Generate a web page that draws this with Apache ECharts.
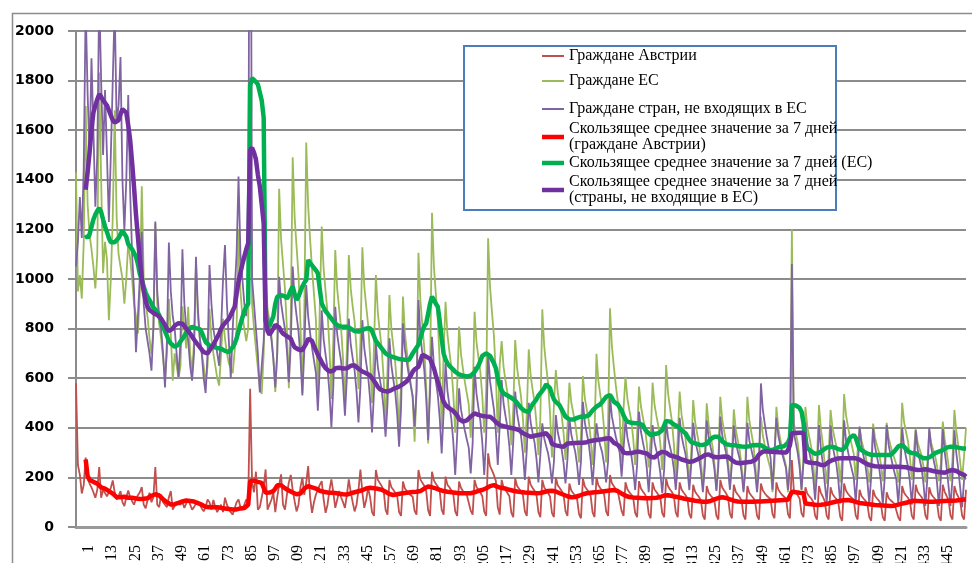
<!DOCTYPE html>
<html>
<head>
<meta charset="utf-8">
<script src="https://cdn.jsdelivr.net/npm/echarts@6/dist/echarts.min.js"></script>
<style>
  html, body { margin: 0; padding: 0; background: #fff; }
  #chart { width: 972px; height: 563px; }
</style>
</head>
<body>
<div id="chart"></div>
<script>
// daily values, day 1 .. 461
const austria = [
  580, 250, 210, 135, 170, 280, 200, 175, 160, 140,
  118, 150, 242, 118, 150, 158, 124, 140, 158, 188,
  140, 111, 125, 145, 100, 84, 120, 147, 120, 104,
  90, 115, 128, 140, 161, 90, 75, 110, 138, 100,
  120, 242, 90, 80, 131, 100, 90, 80, 120, 145,
  70, 85, 100, 104, 90, 100, 77, 95, 111, 105,
  70, 80, 95, 104, 90, 75, 63, 80, 111, 100,
  70, 109, 80, 60, 77, 90, 60, 118, 90, 70,
  60, 50, 75, 100, 111, 80, 70, 90, 111, 100,
  557, 180, 140, 223, 70, 80, 120, 160, 232, 70,
  90, 110, 138, 60, 120, 170, 212, 90, 70, 130,
  180, 210, 150, 104, 63, 90, 160, 200, 130, 180,
  246, 120, 57, 100, 131, 150, 170, 185, 110, 57,
  90, 150, 192, 140, 77, 110, 145, 120, 100, 77,
  130, 192, 140, 100, 63, 90, 150, 232, 140, 77,
  110, 158, 120, 60, 45, 230, 190, 182, 165, 150,
  70, 50, 190, 160, 150, 138, 126, 60, 45, 183,
  155, 147, 135, 131, 122, 65, 50, 230, 192, 178,
  166, 146, 68, 45, 223, 188, 174, 163, 144, 70,
  50, 203, 170, 160, 147, 133, 63, 45, 183, 157,
  145, 137, 129, 124, 66, 50, 190, 161, 149, 139,
  124, 62, 45, 297, 245, 228, 210, 186, 80, 50,
  190, 158, 148, 137, 124, 58, 40, 196, 165, 154,
  142, 129, 63, 45, 203, 171, 157, 146, 130, 60,
  40, 190, 159, 149, 137, 123, 57, 40, 200, 168,
  157, 145, 131, 64, 45, 175, 147, 136, 127, 112,
  52, 35, 195, 163, 152, 141, 126, 59, 40, 200,
  168, 156, 146, 131, 63, 45, 210, 176, 164, 153,
  144, 136, 65, 45, 180, 152, 140, 131, 117, 57,
  40, 185, 155, 143, 132, 118, 53, 35, 180, 151,
  141, 130, 118, 56, 40, 195, 164, 151, 141, 126,
  59, 40, 180, 151, 139, 129, 115, 52, 35, 170,
  142, 131, 121, 107, 47, 30, 165, 138, 127, 118,
  104, 46, 30, 190, 159, 147, 136, 120, 54, 35,
  170, 142, 131, 121, 107, 47, 30, 165, 138, 127,
  118, 104, 46, 30, 175, 147, 136, 126, 119, 112,
  52, 35, 180, 151, 139, 129, 122, 115, 52, 35,
  270, 150, 140, 128, 115, 55, 40, 160, 134, 124,
  115, 102, 46, 30, 165, 138, 122, 104, 46, 30,
  160, 133, 122, 113, 99, 41, 25, 175, 146, 134,
  124, 117, 110, 47, 30, 150, 125, 115, 106, 94,
  40, 25, 150, 125, 115, 106, 94, 40, 25, 140,
  117, 108, 100, 94, 88, 39, 25, 165, 138, 127,
  118, 104, 46, 30, 170, 142, 131, 121, 107, 47,
  30, 160, 133, 122, 113, 99, 41, 25, 170, 142,
  125, 107, 47, 30, 165, 138, 122, 104, 46, 30,
  150
];

const eu = [
  1430, 950, 1016, 921, 1150, 1698, 1300, 1180, 1120, 1050,
  962, 1100, 1833, 1400, 1023, 1150, 1080, 834, 1000, 1250,
  1680, 1250, 1100, 1050, 1002, 900, 1000, 1150, 1080, 1000,
  900, 850, 780, 950, 1374, 1000, 900, 847, 760, 698,
  800, 1225, 900, 820, 760, 680, 600, 700, 920, 780,
  590, 700, 650, 600, 650, 890, 800, 720, 888, 700,
  620, 750, 1064, 850, 760, 700, 650, 580, 650, 880,
  760, 700, 650, 600, 570, 700, 840, 760, 700, 660,
  640, 620, 617, 800, 1200, 950, 850, 800, 750, 800,
  1790, 900, 800, 720, 640, 560, 536, 700, 1000, 880,
  830, 770, 680, 545, 700, 1364, 1160, 1060, 960, 800,
  560, 840, 1491, 1250, 1130, 1015, 825, 540, 870, 1550,
  1295, 1160, 1040, 940, 835, 530, 890, 1212, 1040, 950,
  865, 725, 516, 760, 1117, 960, 880, 805, 680, 496,
  715, 1097, 960, 890, 828, 720, 557, 745, 1128, 970,
  890, 815, 690, 500, 720, 1016, 865, 790, 720, 600,
  420, 630, 935, 799, 728, 663, 554, 390, 581, 929,
  783, 707, 637, 578, 520, 344, 549, 1106, 914, 814,
  722, 568, 337, 606, 1267, 1050, 938, 834, 660, 400,
  703, 908, 776, 707, 644, 538, 380, 565, 808, 696,
  638, 584, 539, 494, 360, 517, 868, 746, 683, 624,
  526, 380, 551, 1164, 968, 866, 772, 615, 380, 654,
  750, 645, 590, 540, 456, 330, 477, 754, 641, 581,
  527, 436, 300, 459, 716, 610, 554, 503, 418, 290,
  439, 878, 729, 651, 579, 459, 280, 489, 633, 542,
  495, 452, 379, 270, 397, 582, 502, 460, 421, 357,
  260, 373, 609, 519, 473, 430, 358, 250, 376, 698,
  589, 532, 479, 391, 260, 413, 882, 727, 646, 571,
  509, 447, 260, 478, 606, 517, 471, 428, 357, 250,
  375, 566, 485, 442, 403, 338, 240, 354, 582, 494,
  448, 406, 336, 230, 353, 653, 540, 481, 427, 336,
  200, 359, 546, 452, 403, 358, 283, 170, 302, 512,
  424, 378, 336, 266, 160, 283, 499, 412, 366, 325,
  255, 150, 272, 525, 434, 386, 343, 270, 160, 288,
  474, 393, 351, 312, 247, 150, 263, 525, 431, 383,
  338, 263, 150, 281, 445, 369, 329, 293, 262, 232,
  140, 247, 485, 399, 354, 313, 278, 244, 140, 261,
  1200, 420, 380, 340, 270, 150, 280, 485, 404, 362,
  323, 258, 160, 274, 492, 397, 334, 254, 175, 286,
  472, 399, 361, 326, 268, 180, 282, 536, 450, 405,
  363, 328, 294, 190, 311, 404, 348, 319, 292, 247,
  180, 258, 417, 359, 329, 301, 255, 185, 266, 420,
  360, 329, 300, 276, 252, 180, 264, 501, 423, 383,
  346, 283, 190, 299, 396, 342, 314, 288, 245, 180,
  256, 390, 339, 312, 288, 247, 185, 257, 425, 353,
  305, 245, 185, 269, 472, 387, 331, 261, 190, 289,
  400
];

const nonEu = [
  1050, 1150, 1330, 1165, 1450, 2100, 1750, 1500, 1890, 1600,
  1291, 1500, 2150, 1800, 1500, 1762, 1500, 1230, 1500, 1800,
  2100, 1629, 1700, 1895, 1400, 1197, 1400, 1742, 1350, 1100,
  950, 705, 850, 1009, 1190, 900, 800, 750, 700, 630,
  800, 1232, 950, 850, 800, 700, 563, 750, 1147, 950,
  850, 800, 700, 604, 750, 1120, 900, 800, 750, 650,
  590, 700, 1090, 880, 760, 700, 600, 540, 700, 1056,
  900, 800, 750, 700, 650, 800, 1000, 1137, 900, 750,
  600, 800, 950, 1100, 1413, 1100, 1000, 900, 850, 1000,
  3600, 1000, 900, 800, 700, 543, 650, 750, 950, 853,
  803, 757, 679, 563, 698, 1009, 903, 848, 797, 712,
  584, 733, 1050, 920, 852, 790, 686, 530, 712, 976,
  849, 783, 723, 672, 621, 469, 646, 874, 756, 694,
  638, 543, 401, 567, 888, 778, 721, 669, 581, 449,
  603, 840, 736, 681, 631, 547, 422, 568, 834, 721,
  662, 608, 517, 381, 540, 740, 646, 597, 552, 477,
  364, 496, 761, 652, 595, 543, 455, 324, 477, 821,
  717, 663, 613, 571, 530, 405, 551, 915, 774, 700,
  633, 520, 350, 548, 767, 650, 588, 532, 438, 297,
  462, 660, 548, 489, 435, 345, 210, 368, 559, 473,
  429, 388, 353, 319, 216, 336, 646, 537, 480, 428,
  341, 210, 363, 700, 588, 529, 475, 385, 250, 408,
  593, 497, 447, 402, 325, 210, 344, 546, 457, 411,
  368, 297, 190, 315, 501, 421, 379, 341, 276, 180,
  292, 418, 358, 326, 297, 249, 176, 261, 451, 382,
  347, 314, 259, 176, 272, 440, 373, 337, 305, 251,
  170, 265, 505, 421, 377, 337, 270, 169, 287, 418,
  359, 328, 299, 251, 180, 263, 525, 445, 403, 364,
  332, 300, 203, 316, 431, 361, 324, 290, 234, 149,
  248, 465, 384, 342, 303, 238, 140, 254, 411, 342,
  307, 274, 219, 136, 232, 430, 360, 324, 290, 234,
  150, 248, 440, 367, 329, 295, 236, 149, 251, 420,
  350, 314, 280, 224, 140, 238, 430, 359, 322, 288,
  231, 145, 245, 445, 371, 333, 298, 239, 150, 253,
  410, 343, 307, 275, 221, 140, 235, 420, 350, 314,
  280, 224, 140, 238, 579, 472, 416, 365, 322, 279,
  150, 300, 440, 368, 330, 295, 266, 237, 150, 252,
  1060, 380, 340, 300, 240, 150, 260, 420, 343, 302,
  265, 203, 110, 219, 411, 318, 256, 178, 100, 209,
  410, 331, 290, 253, 190, 95, 205, 430, 348, 305,
  265, 232, 199, 100, 216, 405, 328, 287, 250, 188,
  95, 204, 400, 323, 282, 245, 183, 90, 199, 411,
  332, 291, 253, 221, 190, 95, 206, 400, 323, 282,
  245, 183, 90, 199, 390, 314, 274, 238, 177, 85,
  192, 400, 321, 280, 243, 180, 85, 195, 395, 302,
  240, 163, 85, 194, 390, 297, 235, 158, 80, 189,
  200
];

// 7-day moving averages as drawn (start on day 6)
const austriaMa = [
  null, null, null, null, null, 272, 205, 190, 185, 182,
  178, 175, 170, 160, 158, 155, 150, 145, 140, 135,
  128, 120, 118, 120, 124, 122, 120, 118, 118, 118,
  116, 115, 113, 113, 113, 114, 115, 116, 120, 126,
  131, 132, 130, 127, 120, 112, 105, 100, 95, 91,
  90, 92, 95, 97, 100, 103, 106, 107, 106, 105,
  104, 103, 100, 96, 93, 90, 86, 82, 80, 80,
  80, 80, 80, 80, 79, 77, 76, 75, 74, 73,
  72, 71, 70, 71, 73, 75, 76, 77, 80, 90,
  185, 188, 187, 185, 182, 180, 178, 176, 138, 138,
  139, 140, 145, 155, 168, 172, 168, 162, 156, 151,
  147, 143, 139, 135, 132, 131, 135, 145, 155, 162,
  165, 162, 160, 158, 155, 150, 146, 144, 142, 140,
  139, 138, 138, 138, 137, 135, 134, 133, 132, 131,
  131, 133, 136, 138, 140, 142, 144, 145, 148, 152,
  155, 157, 158, 157, 156, 155, 154, 152, 150, 147,
  142, 137, 133, 130, 129, 130, 132, 133, 135, 136,
  137, 138, 139, 140, 141, 142, 142, 142, 145, 150,
  155, 160, 163, 162, 160, 158, 156, 154, 150, 147,
  145, 143, 142, 141, 140, 139, 138, 137, 136, 136,
  136, 136, 136, 136, 136, 138, 140, 143, 146, 148,
  149, 152, 156, 160, 165, 168, 169, 166, 162, 159,
  157, 156, 155, 152, 150, 148, 146, 144, 143, 142,
  141, 140, 139, 139, 138, 138, 137, 137, 136, 136,
  137, 139, 141, 143, 145, 146, 146, 145, 143, 140,
  136, 133, 130, 127, 124, 121, 120, 120, 121, 123,
  126, 129, 132, 134, 136, 137, 138, 139, 140, 140,
  141, 142, 143, 144, 145, 146, 147, 148, 149, 148,
  145, 140, 135, 130, 126, 122, 121, 120, 119, 118,
  118, 117, 117, 116, 116, 116, 116, 117, 117, 118,
  118, 119, 121, 124, 127, 129, 128, 126, 125, 123,
  122, 121, 119, 117, 115, 113, 112, 110, 109, 107,
  106, 105, 104, 103, 102, 102, 102, 103, 105, 108,
  111, 114, 117, 119, 120, 119, 117, 114, 111, 108,
  106, 104, 103, 102, 102, 102, 102, 102, 102, 102,
  102, 103, 103, 103, 103, 104, 104, 105, 105, 106,
  106, 107, 107, 107, 108, 108, 109, 109, 110, 112,
  142, 141, 140, 139, 138, 138, 137, 95, 94, 93,
  92, 91, 90, 89, 89, 90, 91, 92, 93, 95,
  97, 99, 101, 103, 105, 106, 107, 108, 109, 109,
  108, 106, 104, 101, 99, 97, 96, 95, 94, 93,
  92, 91, 90, 89, 88, 88, 87, 87, 86, 86,
  85, 85, 85, 86, 88, 90, 92, 94, 96, 98,
  100, 102, 104, 106, 106, 105, 104, 104, 103, 103,
  102, 102, 102, 102, 102, 103, 103, 104, 104, 105,
  105, 106, 106, 106, 106, 107, 108, 109, 110, 111,
  112
];

const euMa = [
  null, null, null, null, null, 1178, 1165, 1180, 1210, 1240,
  1260, 1275, 1286, 1270, 1240, 1212, 1190, 1165, 1148, 1145,
  1148, 1151, 1165, 1180, 1195, 1198, 1170, 1140, 1131, 1120,
  1105, 1090, 1060, 1020, 996, 970, 945, 928, 915, 900,
  885, 876, 870, 855, 830, 807, 790, 770, 750, 740,
  732, 727, 725, 735, 748, 759, 770, 785, 795, 802,
  807, 805, 802, 800, 798, 785, 765, 746, 738, 732,
  728, 726, 725, 722, 720, 719, 715, 710, 706, 705,
  712, 725, 739, 760, 790, 818, 845, 870, 890, 900,
  1780, 1810, 1805, 1795, 1785, 1779, 1720, 1650, 834, 820,
  810, 807, 850, 900, 928, 932, 935, 935, 930, 921,
  935, 955, 969, 940, 915, 930, 950, 970, 985, 996,
  1077, 1065, 1055, 1045, 1035, 1023, 960, 901, 885, 870,
  861, 850, 840, 830, 820, 813, 810, 808, 807, 807,
  807, 805, 800, 795, 790, 786, 788, 792, 795, 798,
  800, 800, 801, 790, 770, 750, 740, 734, 720, 710,
  700, 694, 690, 687, 685, 682, 680, 678, 676, 675,
  674, 673, 673, 685, 700, 712, 720, 735, 760, 790,
  810, 821, 860, 900, 929, 915, 900, 888, 830, 760,
  700, 675, 660, 650, 642, 635, 626, 620, 615, 612,
  610, 608, 607, 606, 610, 618, 625, 633, 650, 670,
  690, 698, 700, 698, 690, 675, 660, 640, 600, 570,
  550, 539, 535, 530, 525, 521, 519, 510, 500, 490,
  480, 472, 468, 465, 465, 480, 495, 505, 515, 530,
  539, 545, 560, 575, 579, 560, 535, 515, 505, 500,
  490, 475, 460, 445, 438, 434, 431, 433, 436, 440,
  443, 445, 445, 445, 445, 450, 460, 470, 478, 485,
  485, 495, 505, 515, 525, 530, 532, 520, 505, 498,
  495, 492, 470, 450, 435, 425, 422, 420, 419, 418,
  418, 418, 418, 410, 395, 385, 378, 371, 372, 375,
  377, 378, 378, 390, 410, 428, 431, 425, 418, 414,
  411, 405, 398, 390, 384, 378, 365, 352, 342, 338,
  337, 334, 332, 331, 331, 331, 335, 345, 355, 362,
  364, 364, 364, 355, 345, 338, 334, 332, 331, 331,
  330, 328, 327, 326, 325, 324, 324, 324, 326, 328,
  330, 331, 331, 331, 330, 326, 320, 315, 312, 310,
  310, 312, 318, 322, 324, 325, 326, 330, 340, 360,
  492, 494, 490, 486, 480, 465, 420, 330, 318, 312,
  305, 300, 295, 292, 298, 305, 310, 316, 320, 322,
  324, 324, 322, 318, 314, 310, 310, 312, 325, 345,
  360, 368, 371, 360, 335, 315, 310, 305, 300, 296,
  293, 291, 290, 290, 290, 290, 290, 290, 290, 290,
  290, 290, 295, 305, 315, 325, 330, 331, 325, 315,
  305, 300, 298, 297, 297, 292, 285, 280, 277, 277,
  277, 280, 285, 292, 298, 302, 304, 306, 310, 315,
  320, 322, 324, 324, 324, 322, 320, 318, 317, 317,
  317
];

const nonEuMa = [
  null, null, null, null, null, 1360, 1430, 1509, 1600, 1671,
  1700, 1725, 1745, 1735, 1720, 1712, 1700, 1680, 1660, 1640,
  1631, 1625, 1640, 1665, 1685, 1680, 1671, 1620, 1560, 1470,
  1370, 1260, 1170, 1077, 1000, 950, 910, 888, 875, 868,
  863, 861, 855, 848, 840, 834, 815, 800, 790, 786,
  800, 812, 820, 822, 821, 820, 810, 800, 793, 780,
  768, 756, 748, 735, 725, 715, 705, 698, 700, 712,
  719, 735, 750, 765, 780, 800, 813, 822, 830, 840,
  855, 872, 888, 940, 990, 1025, 1060, 1090, 1120, 1144,
  1520, 1529, 1510, 1482, 1420, 1374, 1300, 1225, 830, 790,
  775, 780, 800, 815, 820, 805, 790, 780, 775, 770,
  765, 760, 740, 725, 719, 716, 714, 713, 712, 740,
  760, 766, 750, 730, 712, 695, 680, 665, 651, 640,
  632, 627, 624, 630, 640, 644, 642, 640, 639, 638,
  640, 645, 650, 658, 652, 645, 638, 631, 627, 624,
  620, 616, 611, 600, 590, 578, 565, 556, 552, 549,
  546, 546, 548, 552, 556, 560, 563, 566, 570, 576,
  582, 588, 593, 610, 626, 636, 642, 646, 670, 694,
  690, 687, 682, 678, 673, 640, 610, 586, 560, 530,
  505, 492, 485, 478, 472, 468, 465, 450, 435, 428,
  425, 425, 430, 438, 445, 452, 458, 456, 452, 450,
  448, 447, 446, 445, 445, 440, 432, 423, 415, 411,
  409, 407, 405, 403, 401, 399, 398, 396, 393, 391,
  385, 378, 373, 371, 368, 364, 366, 368, 370, 371,
  372, 374, 376, 378, 378, 360, 335, 331, 329, 327,
  326, 325, 324, 330, 337, 338, 338, 339, 339, 340,
  340, 340, 340, 340, 342, 345, 347, 348, 350, 351,
  352, 353, 354, 355, 357, 358, 358, 350, 340, 333,
  331, 331, 315, 300, 297, 297, 297, 298, 300, 302,
  303, 304, 303, 300, 298, 297, 290, 283, 277, 280,
  288, 295, 300, 303, 304, 300, 293, 288, 286, 285,
  284, 280, 276, 272, 270, 268, 265, 263, 263, 265,
  268, 272, 276, 280, 285, 290, 295, 293, 288, 284,
  282, 281, 281, 282, 283, 284, 284, 283, 278, 270,
  264, 260, 258, 257, 258, 259, 260, 261, 262, 263,
  263, 270, 280, 292, 300, 304, 305, 304, 304, 303,
  302, 302, 301, 301, 300, 300, 300, 300, 310, 330,
  378, 378, 379, 379, 380, 380, 380, 265, 262, 260,
  259, 258, 257, 257, 256, 250, 245, 250, 257, 262,
  266, 270, 273, 275, 277, 277, 277, 277, 277, 277,
  277, 277, 277, 277, 276, 272, 267, 262, 257, 253,
  250, 248, 246, 245, 244, 244, 243, 243, 243, 243,
  243, 243, 243, 243, 243, 243, 243, 242, 242, 241,
  239, 237, 235, 233, 231, 230, 230, 231, 232, 233,
  232, 230, 228, 226, 224, 223, 222, 221, 220, 219,
  222, 226, 230, 230, 230, 226, 221, 216, 212, 210,
  203
];

const names = [
  "Граждане Австрии",
  "Граждане ЕС",
  "Граждане стран, не входящих в ЕС",
  "Скользящее среднее значение за 7 дней\n(граждане Австрии)",
  "Скользящее среднее значение за 7 дней (ЕС)",
  "Скользящее среднее значение за 7 дней\n(страны, не входящие в ЕС)",
];
const colors = ["#c0504d", "#9bbb59", "#8064a2", "#ff0000", "#00b050", "#7030a0"];
const widths = [1.8, 1.8, 1.8, 4.5, 4.5, 4.5];
// y position of each legend entry
const legendTops = [48, 73, 101, 121, 155, 174];

let days = [];
for (let i = 1; i <= austria.length; i++) days.push(String(i));

const gridColor = "#8c8c8c";
const serif = "'Liberation Serif', 'Times New Roman', serif";

let chart = echarts.init(document.getElementById("chart"));

let lineSeries = (i, data, z) => ({
  name: names[i],
  type: "line",
  data: data,
  symbol: "none",
  showSymbol: false,
  z: z,
  lineStyle: { color: colors[i], width: widths[i] },
  itemStyle: { color: colors[i] },
});

let option = {
  animation: false,
  backgroundColor: "#fff",
  color: colors,
  grid: [
    // plot area
    { left: 76, right: 6, top: 31, bottom: 36, outerBoundsMode: "none" },
    // same axis moved right: it only carries the day labels,
    // which sit a little to the right of their days in the original
    { left: 89, right: -7, top: 31, bottom: 36, outerBoundsMode: "none" },
  ],
  xAxis: [
    {
      type: "category",
      data: days,
      boundaryGap: false,
      axisLine: { show: true, lineStyle: { color: "#999", width: 3 } },
      axisTick: { show: false },
      splitLine: { show: false },
      axisLabel: { show: false },
    },
    {
      type: "category",
      gridIndex: 1,
      data: days,
      boundaryGap: false,
      axisLine: { show: false },
      axisTick: { show: false },
      splitLine: { show: false },
      axisLabel: {
        interval: 11,
        rotate: 90,
        margin: 18,
        showMinLabel: true,
        showMaxLabel: false,
        color: "#000",
        fontFamily: serif,
        fontSize: 16,
      },
    },
  ],
  yAxis: [
    {
      type: "value",
      min: 0,
      max: 2000,
      interval: 200,
      axisLine: { show: true, lineStyle: { color: gridColor, width: 2 } },
      axisTick: { show: true, length: 8, lineStyle: { color: gridColor, width: 2 } },
      splitLine: { show: true, lineStyle: { color: gridColor, width: 2 } },
      axisLabel: {
        margin: 22,
        color: "#000",
        fontFamily: "'DejaVu Sans', Verdana, sans-serif",
        fontWeight: "bold",
        fontSize: 14,
        formatter: (v) => String(v),
      },
    },
    { type: "value", gridIndex: 1, min: 0, max: 2000, show: false },
  ],
  legend: names.map((n, i) => ({
    data: [{ name: n, icon: "rect" }],
    orient: "vertical",
    left: 542,
    top: legendTops[i],
    padding: 0,
    itemWidth: 22,
    itemHeight: i < 3 ? 2 : 4.5,
    itemGap: 0,
    selectedMode: false,
    z: 20,
    textStyle: { color: "#000", fontFamily: serif, fontSize: 16, lineHeight: 16 },
  })),
  graphic: [
    {
      type: "rect",
      left: 10,
      top: 11,
      shape: { width: 1000, height: 600 },
      style: { fill: "none", stroke: gridColor, lineWidth: 1.5 },
      z: -1,
      silent: true,
    },
    {
      type: "rect",
      left: 463,
      top: 45,
      shape: { width: 372, height: 164 },
      style: { fill: "#fff", stroke: "#4a7ebb", lineWidth: 2 },
      z: 10,
      silent: true,
    },
  ],
  series: [
    lineSeries(0, austria, 2),
    lineSeries(1, eu, 2),
    lineSeries(2, nonEu, 2),
    lineSeries(3, austriaMa, 3),
    lineSeries(4, euMa, 3),
    lineSeries(5, nonEuMa, 3),
  ],
};

chart.setOption(option);
</script>
</body>
</html>
